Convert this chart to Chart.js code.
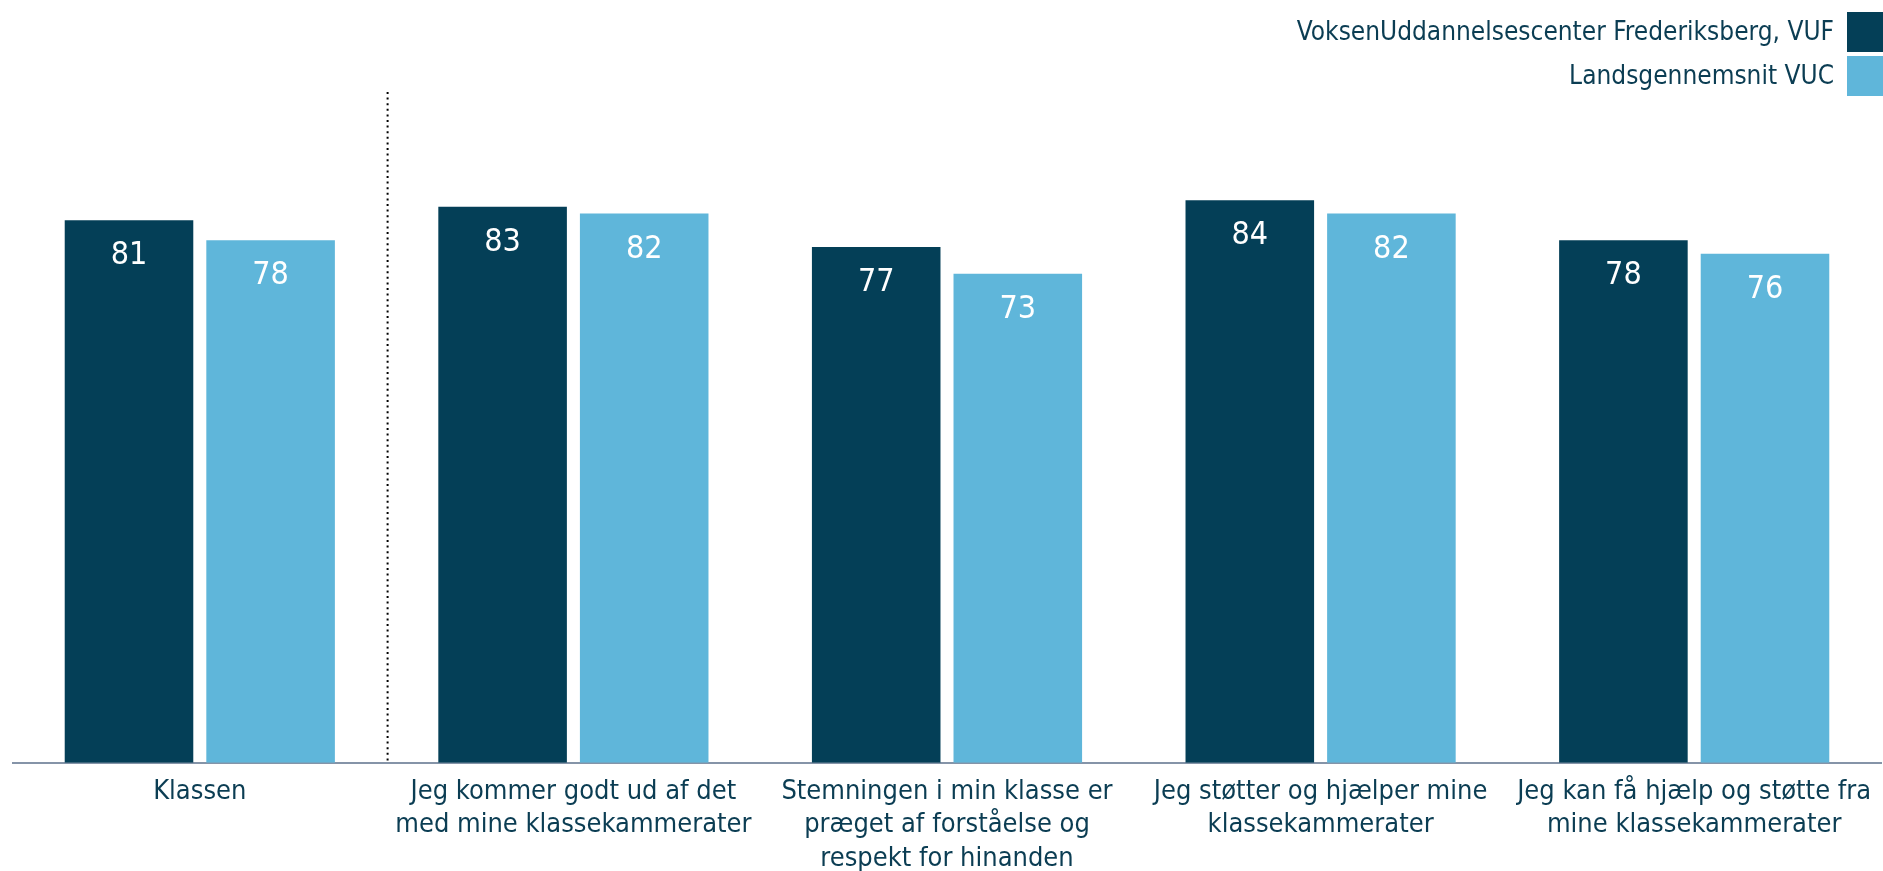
<!DOCTYPE html>
<html>
<head>
<meta charset="utf-8">
<script src="https://cdn.jsdelivr.net/npm/chart.js@4/dist/chart.umd.min.js"></script>
<style>
  html, body { margin: 0; padding: 0; background: #fff; }
  #wrap { width: 1883px; height: 871px; }
</style>
</head>
<body>
<div id="wrap"><canvas id="myChart"></canvas></div>
<script>
const categories = [
  ['Klassen'],
  ['Jeg kommer godt ud af det', 'med mine klassekammerater'],
  ['Stemningen i min klasse er', 'præget af forståelse og', 'respekt for hinanden'],
  ['Jeg støtter og hjælper mine', 'klassekammerater'],
  ['Jeg kan få hjælp og støtte fra', 'mine klassekammerater'],
];
const seriesNames = ['VoksenUddannelsescenter Frederiksberg, VUF', 'Landsgennemsnit VUC'];
const vufValues = [81, 83, 77, 84, 78];
const landsValues = [78, 82, 73, 82, 76];
const colors = ['#043F57', '#5FB6DA'];

const FONT = '"DejaVu Sans Condensed", "Liberation Sans", sans-serif';
const TEXT_COLOR = '#0B3D53';

// white value labels inside the top of each bar
const valueLabels = {
  id: 'valueLabels',
  afterDatasetsDraw(chart) {
    const ctx = chart.ctx;
    ctx.save();
    ctx.fillStyle = '#ffffff';
    ctx.font = '32px ' + FONT;
    ctx.textAlign = 'center';
    ctx.textBaseline = 'alphabetic';
    chart.data.datasets.forEach((ds, i) => {
      chart.getDatasetMeta(i).data.forEach((bar, j) => {
        ctx.fillText(String(ds.data[j]), bar.x, bar.y + 44);
      });
    });
    ctx.restore();
  }
};

// dotted separator after the first category
const separator = {
  id: 'separator',
  afterDraw(chart) {
    const x = chart.scales.x;
    const xs = (x.getPixelForTick(0) + x.getPixelForTick(1)) / 2 + 1;
    const ctx = chart.ctx;
    ctx.save();
    ctx.strokeStyle = '#000';
    ctx.lineWidth = 2;
    ctx.setLineDash([2, 3.6]);
    ctx.beginPath();
    ctx.moveTo(xs, chart.chartArea.top - 1);
    ctx.lineTo(xs, chart.chartArea.bottom);
    ctx.stroke();
    ctx.restore();
  }
};

// legend at the top right, box to the right of each name
const rightLegend = {
  id: 'rightLegend',
  afterDraw(chart) {
    const ctx = chart.ctx;
    ctx.save();
    ctx.font = '26px ' + FONT;
    ctx.textAlign = 'right';
    ctx.textBaseline = 'alphabetic';
    chart.data.datasets.forEach((ds, i) => {
      const top = 12 + i * 44;
      ctx.fillStyle = ds.backgroundColor;
      ctx.fillRect(1847, top, 36, 40);
      ctx.fillStyle = TEXT_COLOR;
      ctx.fillText(ds.label, 1834, 40 + i * 44);
    });
    ctx.restore();
  }
};

new Chart(document.getElementById('myChart'), {
  type: 'bar',
  data: {
    labels: categories,
    datasets: [
      { label: seriesNames[0], data: vufValues, backgroundColor: colors[0] },
      { label: seriesNames[1], data: landsValues, backgroundColor: colors[1] },
    ],
  },
  options: {
    responsive: true,
    maintainAspectRatio: false,
    animation: false,
    categoryPercentage: 0.758,
    barPercentage: 0.908,
    layout: { padding: { top: 93, left: 13, right: 2, bottom: -9 } },
    plugins: {
      legend: { display: false },
      tooltip: { enabled: false },
    },
    scales: {
      y: { display: false, min: 0, max: 100 },
      x: {
        grid: { display: false },
        border: { display: true, color: '#8594A8', width: 2 },
        ticks: {
          color: TEXT_COLOR,
          font: { family: FONT, size: 27, lineHeight: 1.25 },
          padding: 4,
          autoSkip: false,
          maxRotation: 0,
          minRotation: 0,
        },
      },
    },
  },
  plugins: [valueLabels, separator, rightLegend],
});
</script>
</body>
</html>
